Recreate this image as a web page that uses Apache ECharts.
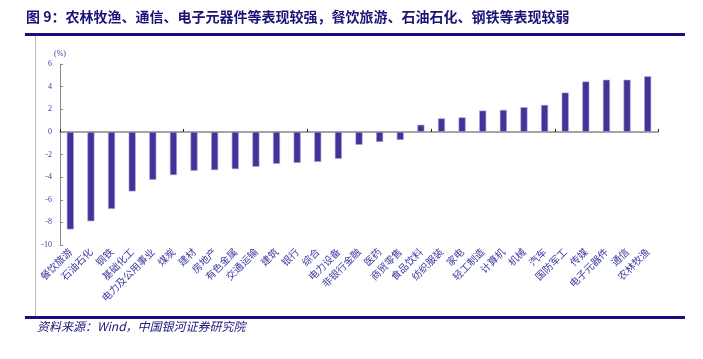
<!DOCTYPE html>
<html>
<head>
<meta charset="utf-8">
<script src="https://cdn.jsdelivr.net/npm/echarts@6/dist/echarts.min.js"></script>
<style>
html,body{margin:0;padding:0;background:#fff;}
#c{width:703px;height:359px;}
</style>
</head>
<body>
<div id="c"></div>
<script>
const categories = ['餐饮旅游','石油石化','钢铁','基础化工','电力及公用事业','煤炭','建材','房地产','有色金属','交通运输','建筑','银行','综合','电力设备','非银行金融','医药','商贸零售','食品饮料','纺织服装','家电','轻工制造','计算机','机械','汽车','国防军工','传媒','电子元器件','通信','农林牧渔'];
const values = [-8.62,-7.9,-6.81,-5.26,-4.24,-3.82,-3.44,-3.38,-3.29,-3.09,-2.82,-2.74,-2.65,-2.38,-1.14,-0.89,-0.71,0.63,1.19,1.28,1.88,1.94,2.18,2.38,3.47,4.45,4.61,4.61,4.91];
const yTicks = {min:-10, max:6, interval:2};
const titleText = '图 9：农林牧渔、通信、电子元器件等表现较强，餐饮旅游、石油石化、钢铁等表现较弱';
const sourceText = '资料来源：Wind，中国银河证券研究院';

const chart = echarts.init(document.getElementById('c'));
const labelColor = '#3a3aa0';
chart.setOption({
  animation:false,
  grid:{left:60,right:45,top:64,bottom:114},
  xAxis:[{
    type:'category', data:categories, position:'bottom',
    axisLine:{show:false,onZero:false}, axisTick:{show:false},
    axisLabel:{rotate:45, interval:0, fontSize:10, color:labelColor, margin:5,
      fontFamily:'Noto Sans CJK SC'}
  },{
    type:'category', data:categories, position:'bottom',
    axisLine:{show:true,onZero:true,lineStyle:{color:'#888',width:1.5}},
    axisTick:{show:true,inside:true,length:3,lineStyle:{color:'#222'}},
    axisLabel:{show:false}
  }],
  yAxis:{
    type:'value', min:yTicks.min, max:yTicks.max, interval:yTicks.interval,
    name:'(%)', nameLocation:'end', nameGap:6,
    nameTextStyle:{color:labelColor,fontSize:8,fontFamily:'Liberation Serif',align:'center'},
    axisLine:{show:true,lineStyle:{color:'#888',width:1}},
    axisTick:{show:true,inside:true,length:3,lineStyle:{color:'#888'}},
    axisLabel:{color:labelColor,fontSize:8,fontFamily:'Liberation Serif',margin:8},
    splitLine:{show:false}
  },
  series:[{
    type:'bar', data:values, xAxisIndex:0, barWidth:7,
    itemStyle:{color:'#40339a',borderColor:'#a9a2dc',borderWidth:0.6}
  }],
  graphic:[
    {type:'text',left:26,top:10,style:{text:titleText,fill:'#1a1478',
      font:'bold 14px "Noto Sans CJK SC"'}},
    {type:'rect',shape:{x:25,y:33,width:660,height:3},style:{fill:'#1a0f80'}},
    {type:'rect',shape:{x:25,y:316,width:660,height:3},style:{fill:'#1a0f80'}},
    {type:'line',shape:{x1:35.5,y1:36,x2:35.5,y2:316},style:{stroke:'#bbb',lineWidth:1}},
    {type:'text',left:37,top:320,style:{text:sourceText,fill:'#1a1478',
      font:'italic 12px "Noto Sans CJK SC"'}}
  ]
});
</script>
</body>
</html>
